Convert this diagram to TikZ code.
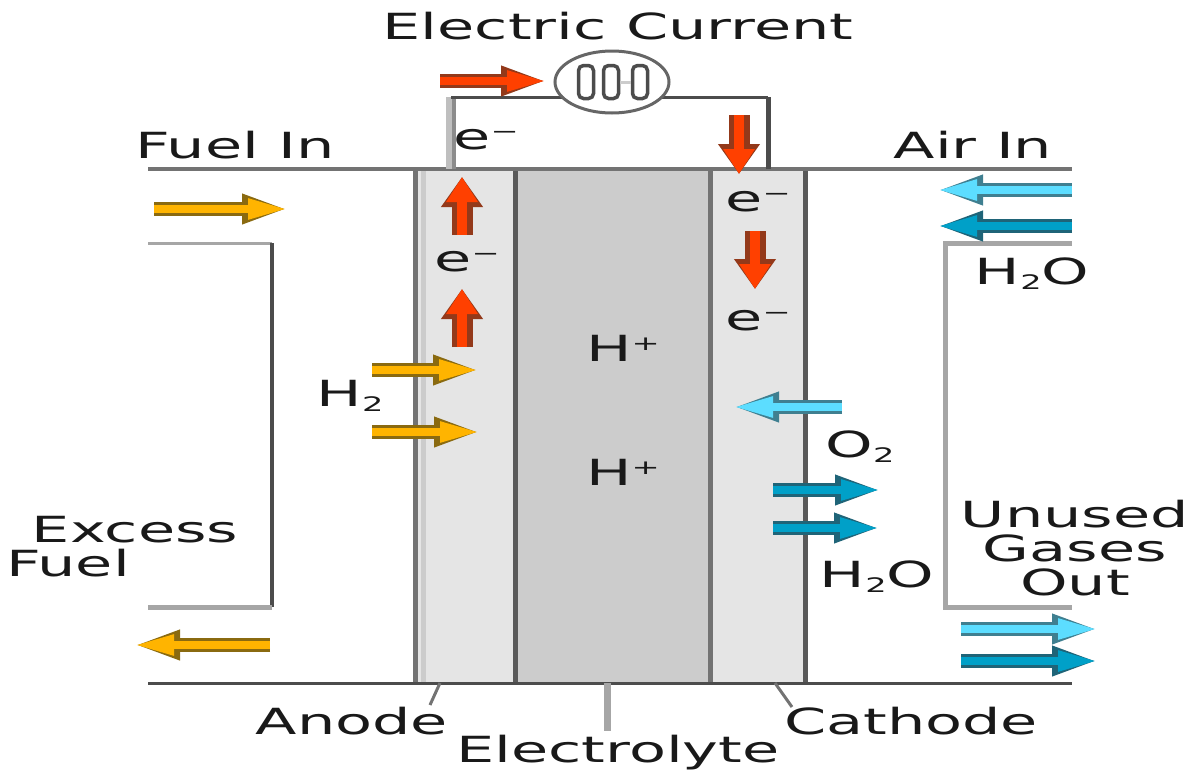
\documentclass[tikz,border=0pt]{standalone}
\usepackage{fontspec}
\setmainfont{DejaVu Sans}
\usetikzlibrary{positioning,arrows.meta,shapes.geometric}
\definecolor{fuelc}{HTML}{FFB400}
\definecolor{fueld}{HTML}{8A6A10}
\definecolor{elecc}{HTML}{FF4000}
\definecolor{elecd}{HTML}{93391A}
\definecolor{airc}{HTML}{5CDDFF}
\definecolor{aird}{HTML}{3F7F90}
\definecolor{waterc}{HTML}{00A0C8}
\definecolor{waterd}{HTML}{1F6478}
\newcommand{\smallsub}[1]{\raisebox{-5pt}{\fontsize{20}{20}\selectfont #1}}
\newcommand{\smallsup}[1]{\raisebox{11pt}{\fontsize{20}{20}\selectfont #1}}
\newcommand{\elec}{e\smallsup{−}}
\tikzset{
  lab/.style={font=\fontsize{36}{36}\selectfont,text=black!90,inner sep=0pt,xscale=1.68,transform shape},
  panel/.style={minimum height=514pt,inner sep=0pt,outer sep=0pt,anchor=north west},
  edgeline/.style={line width=5pt,draw=#1},
  flow/.style n args={2}{line width=8pt,draw=#1,
    preaction={draw=#2,line width=14pt,-{Stealth[length=46pt,width=27pt,inset=0pt,color=#2,fill=#2]}},
    -{Stealth[length=40pt,width=19pt,inset=0pt,color=#1,fill=#1]}},
  vflow/.style n args={2}{line width=10pt,draw=#1,
    preaction={draw=#2,line width=21pt,-{Stealth[length=30pt,width=40pt,inset=0pt,color=#2,fill=#2]}},
    -{Stealth[length=25pt,width=30pt,inset=0pt,color=#1,fill=#1]}},
  fuelflow/.style={flow={fuelc}{fueld}},
  elecflow/.style={flow={elecc}{elecd}},
  elecdrop/.style={vflow={elecc}{elecd}},
  airflow/.style={flow={airc}{aird}},
  waterflow/.style={flow={waterc}{waterd}},
  coil/.style={draw=black!70,line width=3.5pt,rounded corners=5pt,minimum width=15pt,minimum height=33pt,inner sep=0pt}
}
\begin{document}
\begin{tikzpicture}[x=1pt,y=-1pt]
\useasboundingbox (0,0) rectangle (1200,772);
% cell
\path node[panel,fill=black!10,minimum width=100pt] (anode) at (415,169) {};
\path node[panel,fill=black!20,minimum width=195pt,right=0pt of anode] (electrolyte) {};
\path node[panel,fill=black!10,minimum width=95pt,right=0pt of electrolyte] (cathode) {};
\draw[line width=5pt,black!20] ([xshift=8pt]anode.north west) -- ([xshift=8pt]anode.south west);
\draw[edgeline=black!55] (anode.north west) -- (anode.south west);
\draw[edgeline=black!65] (anode.north east) -- (anode.south east);
\draw[edgeline=black!55] (cathode.north west) -- (cathode.south west);
\draw[edgeline=black!65] (cathode.north east) -- (cathode.south east);
% outer lines
\coordinate (topL) at (148,169); \coordinate (topR) at (1072,169);
\coordinate (botL) at (148,683); \coordinate (botR) at (1072,683);
\draw[line width=3.5pt,black!55] (topL) -- (topR);
\draw[line width=3pt,black!70] (botL) -- (botR);
% external circuit
\coordinate (wireA) at (451,169); \coordinate (wireB) at (451,97);
\coordinate (wireC) at (768,97); \coordinate (wireD) at (768,169);
\draw[line width=6pt,black!25] ([xshift=-2pt]wireA) -- ([xshift=-2pt]wireB);
\draw[line width=4pt,black!45] ([xshift=3pt]wireA) -- ([xshift=3pt]wireB);
\draw[line width=3pt,black!70] (wireB) -- (wireC);
\draw[line width=5pt,black!70] (wireC) -- (wireD);
\path node[ellipse,draw=black!60,fill=white,line width=3pt,minimum width=114pt,minimum height=62pt,inner sep=0pt] (meter) at (612,82) {};
\path node[coil] (coil1) at (586,82) {};
\path node[coil] (coil2) at (611,82) {};
\path node[coil] (coil3) at (640,82) {};
\draw[line width=3pt,black!20] (coil2.east) -- (coil3.west);
% side channels
\coordinate (exA) at (148,243); \coordinate (exB) at (272,243);
\coordinate (exC) at (272,607); \coordinate (exD) at (148,607);
\draw[line width=3pt,black!35] (exA) -- (exB);
\draw[line width=4pt,black!70] (exB) -- (exC);
\draw[line width=5pt,black!35] (exC) -- (exD);
\coordinate (unA) at (1072,243); \coordinate (unB) at (945,243);
\coordinate (unC) at (945,607); \coordinate (unD) at (1072,607);
\draw[line width=5pt,black!35,line join=miter] (unA) -- (unB) -- (unC) -- (unD);
% leaders
\coordinate (anodeT) at (440,683); \coordinate (anodeE) at (430,705);
\coordinate (cathT) at (775,683); \coordinate (cathE) at (792,707);
\coordinate (elyT) at (607,683); \coordinate (elyE) at (607,731);
\draw[line width=3pt,black!55] (anodeT) -- (anodeE);
\draw[line width=3pt,black!55] (cathT) -- (cathE);
\draw[line width=7pt,black!35] (elyT) -- (elyE);
% fuel
\coordinate (fa1) at (154,209); \coordinate (fb1) at (288,209);
\coordinate (fa2) at (372,370); \coordinate (fb2) at (479,370);
\coordinate (fa3) at (372,432); \coordinate (fb3) at (480,432);
\coordinate (fa4) at (270,645); \coordinate (fb4) at (134,645);
\draw[fuelflow] (fa1) -- (fb1);
\draw[fuelflow] (fa2) -- (fb2);
\draw[fuelflow] (fa3) -- (fb3);
\draw[fuelflow] (fa4) -- (fb4);
% electrons
\coordinate (ea1) at (440,81); \coordinate (eb1) at (547,81);
\coordinate (ea2) at (462,235); \coordinate (eb2) at (462,177);
\coordinate (ea3) at (462,347); \coordinate (eb3) at (462,289);
\coordinate (ea4) at (739,115); \coordinate (eb4) at (739,174);
\coordinate (ea5) at (755,231); \coordinate (eb5) at (755,289);
\draw[elecflow] (ea1) -- (eb1);
\draw[elecdrop] (ea2) -- (eb2);
\draw[elecdrop] (ea3) -- (eb3);
\draw[elecdrop] (ea4) -- (eb4);
\draw[elecdrop] (ea5) -- (eb5);
% air and water
\coordinate (aa1) at (1072,190); \coordinate (ab1) at (937,190);
\coordinate (aa2) at (842,407); \coordinate (ab2) at (733,407);
\coordinate (aa3) at (961,629); \coordinate (ab3) at (1098,629);
\coordinate (wa1) at (1072,226); \coordinate (wb1) at (937,226);
\coordinate (wa2) at (773,490); \coordinate (wb2) at (881,490);
\coordinate (wa3) at (773,528); \coordinate (wb3) at (880,528);
\coordinate (wa4) at (961,661); \coordinate (wb4) at (1098,661);
\draw[airflow] (aa1) -- (ab1);
\draw[airflow] (aa2) -- (ab2);
\draw[airflow] (aa3) -- (ab3);
\draw[waterflow] (wa1) -- (wb1);
\draw[waterflow] (wa2) -- (wb2);
\draw[waterflow] (wa3) -- (wb3);
\draw[waterflow] (wa4) -- (wb4);
% labels
\path node[lab] (current) at (618,26) {Electric Current};
\path node[lab] (fuelin) at (235,145) {Fuel In};
\path node[lab] (airin) at (973,145) {Air In};
\path node[lab] (excess) at (135,530) {Excess};
\path node[lab] (fuel) at (68,563) {Fuel};
\path node[lab] (hfuel) at (350,396) {H\smallsub{2}};
\path node[lab] (oxy) at (860,447) {O\smallsub{2}};
\path node[lab] (waterin) at (1032,274) {H\smallsub{2}O};
\path node[lab] (waterout) at (877,577) {H\smallsub{2}O};
\path node[lab] (proton1) at (623,348) {H\smallsup{+}};
\path node[lab] (proton2) at (623,472) {H\smallsup{+}};
\path node[lab] (el1) at (486,140) {\elec};
\path node[lab] (el2) at (467,262) {\elec};
\path node[lab] (el3) at (758,202) {\elec};
\path node[lab] (el4) at (758,321) {\elec};
\path node[lab,align=center] (unused) at (1075,548) {Unused\\[-2pt]Gases\\[-2pt]Out};
\path node[lab] (anodel) at (352,721) {Anode};
\path node[lab] (cathl) at (911,721) {Cathode};
\path node[lab] (elyl) at (618,753) {Electrolyte};
\end{tikzpicture}
\end{document}
